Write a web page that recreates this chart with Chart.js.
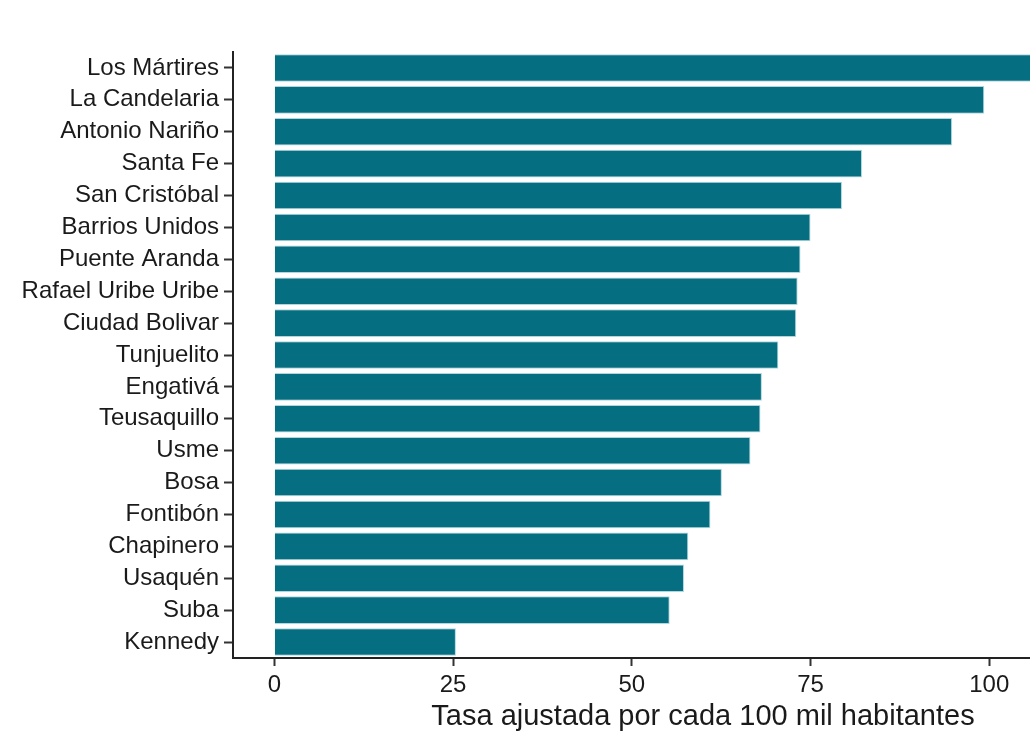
<!DOCTYPE html>
<html>
<head>
<meta charset="utf-8">
<script src="https://cdn.jsdelivr.net/npm/chart.js@4.4.1/dist/chart.umd.min.js"></script>
<style>
  html, body { margin: 0; padding: 0; background: #fff; overflow: hidden; }
  #wrap { position: relative; width: 1180px; height: 734px; }
</style>
</head>
<body>
<div id="wrap"><canvas id="tasaChart"></canvas></div>
<script>
const localidades = ['Los Mártires', 'La Candelaria', 'Antonio Nariño', 'Santa Fe', 'San Cristóbal',
    'Barrios Unidos', 'Puente Aranda', 'Rafael Uribe Uribe', 'Ciudad Bolivar', 'Tunjuelito',
    'Engativá', 'Teusaquillo', 'Usme', 'Bosa', 'Fontibón', 'Chapinero', 'Usaquén', 'Suba', 'Kennedy'];
const tasas = [115.6, 99.3, 94.8, 82.2, 79.4, 75.0, 73.6, 73.2, 73.0, 70.5,
    68.2, 68.0, 66.6, 62.6, 61.0, 57.9, 57.3, 55.3, 25.4];
const ticksX = [0, 25, 50, 75, 100];
const tituloX = 'Tasa ajustada por cada 100 mil habitantes';

const ctx = document.getElementById('tasaChart').getContext('2d');

// el lienzo es más ancho que la ventana: el panel queda recortado a la derecha como en la imagen
const tasaChart = new Chart(ctx, {
    type: 'bar',
    data: {
        labels: localidades,
        datasets: [{
            data: tasas,
            backgroundColor: '#056f81',
            borderColor: 'rgba(170, 210, 218, 0.9)',
            borderWidth: 1,
            barPercentage: 0.865,
            categoryPercentage: 1,
        }]
    },
    options: {
        indexAxis: 'y',
        responsive: true,
        maintainAspectRatio: false,
        animation: false,
        layout: {
            padding: { top: 52, right: 7, bottom: 0, left: 0 }
        },
        scales: {
            x: {
                min: -5.78,
                max: 125.7,
                afterBuildTicks: (scale) => {
                    scale.ticks = ticksX.map(v => ({ value: v }));
                },
                afterFit: (scale) => { scale.height = 76; },
                grid: {
                    drawOnChartArea: false,
                    drawTicks: true,
                    tickLength: 8,
                    tickWidth: 2,
                    tickColor: '#333'
                },
                border: { display: true, color: '#222', width: 2 },
                ticks: {
                    color: '#1a1a1a',
                    padding: 5,
                    maxRotation: 0,
                    font: { family: 'Liberation Sans', size: 24 }
                },
                title: {
                    display: true,
                    text: tituloX,
                    color: '#1a1a1a',
                    padding: { top: 0, bottom: 0 },
                    font: { family: 'Liberation Sans', size: 29 }
                }
            },
            y: {
                offset: true,
                afterFit: (scale) => { scale.width = 233; },
                grid: {
                    offset: false,
                    drawOnChartArea: false,
                    drawTicks: true,
                    tickLength: 9,
                    tickWidth: 2,
                    tickColor: '#333'
                },
                border: { display: true, color: '#222', width: 2 },
                ticks: {
                    color: '#1a1a1a',
                    padding: 5,
                    autoSkip: false,
                    font: { family: 'Liberation Sans', size: 24 }
                }
            }
        },
        plugins: {
            legend: { display: false },
            tooltip: { enabled: false }
        }
    }
});
</script>
</body>
</html>
